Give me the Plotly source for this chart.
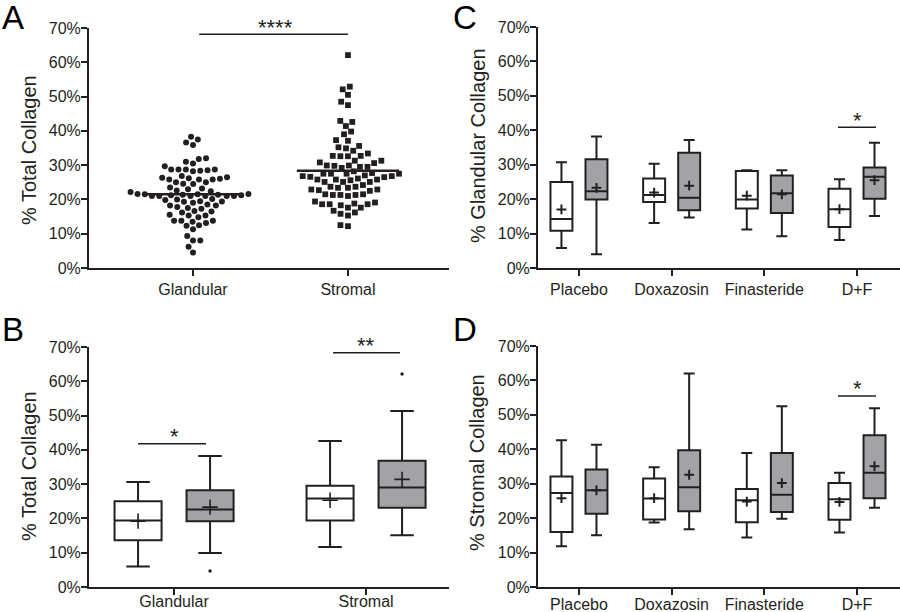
import numpy as np
import plotly.graph_objects as go

# ---------------- data ----------------
# Panel A: individual % total collagen values
glandular_pct = [38.3, 37.5, 36.6, 35.9,
                 32.0, 31.8, 31.0, 30.5, 29.7,
                 28.7, 28.7, 28.5, 28.7, 28.4, 28.7, 28.2,
                 26.3, 26.0, 25.8, 26.5, 26.8, 25.8, 25.8, 26.2,
                 25.0, 24.6, 24.5, 25.0,
                 23.2, 22.6, 22.4, 22.2, 23.0, 23.5,
                 21.0, 21.0, 21.0, 21.2, 21.4, 21.6, 21.4, 21.6, 21.5, 21.5, 21.2, 21.0, 21.0, 21.0,
                 20.0, 19.5, 19.3, 19.0, 19.4, 19.8, 20.1,
                 18.2, 17.5, 17.3, 17.8, 18.2, 18.5,
                 16.2, 15.5, 16.6, 15.3, 14.8, 15.3, 16.5,
                 13.8, 13.1, 12.5, 13.8, 13.5, 13.8,
                 12.3, 11.3,
                 9.3, 8.0, 8.0,
                 6.2,
                 4.5]
stromal_pct = [62.1,
               52.9, 52.1,
               50.5, 48.5, 47.5,
               42.9, 42.6, 41.4,
               39.0, 39.8,
               37.1, 37.3,
               35.2, 34.2, 33.4, 34.9, 35.6,
               32.7, 32.7, 32.6, 32.6,
               31.3, 30.6, 30.8, 31.3, 29.9, 29.5, 29.5, 29.2, 29.8, 29.9,
               28.2, 27.5, 27.5, 26.8, 26.6, 27.7, 26.8, 27.0, 27.5, 27.5,
               25.8, 25.6, 25.1, 25.1, 26.5, 25.1, 25.8, 25.8, 26.1,
               23.4, 22.9, 22.9, 23.7, 23.4, 24.2, 23.7, 22.7,
               21.5, 21.0, 21.3, 21.3, 21.5, 21.3, 22.5,
               18.6, 18.6, 19.1, 18.6, 19.4, 18.8,
               17.6, 17.6, 18.3, 16.7,
               15.8, 15.3, 16.2,
               12.2, 12.5]
a_categories = ["Glandular", "Stromal"]

# Panel B: box summaries (white = first group, grey = second group)
b_categories = ["Glandular", "Stromal"]
b_white_low = [6.0, 11.7]
b_white_q1 = [13.6, 19.4]
b_white_med = [19.4, 25.8]
b_white_q3 = [25.0, 29.5]
b_white_high = [30.6, 42.6]
b_white_mean = [19.2, 25.3]
b_grey_low = [9.9, 15.1]
b_grey_q1 = [19.2, 23.1]
b_grey_med = [22.6, 29.0]
b_grey_q3 = [28.2, 36.8]
b_grey_high = [38.2, 51.3]
b_grey_mean = [23.3, 31.4]
b_grey_outliers = [4.7, 62.1]

# Panels C and D: treatments
treatments = ["Placebo", "Doxazosin", "Finasteride", "D+F"]
c_white_low = [5.8, 13.1, 11.2, 8.1]
c_white_q1 = [10.8, 19.2, 17.3, 11.9]
c_white_med = [14.2, 21.2, 19.9, 17.1]
c_white_q3 = [25.0, 26.0, 28.2, 23.0]
c_white_high = [30.7, 30.3, 28.4, 25.8]
c_white_mean = [17.0, 21.9, 21.0, 17.1]
c_grey_low = [4.0, 14.7, 9.2, 15.1]
c_grey_q1 = [19.9, 16.8, 16.0, 20.1]
c_grey_med = [22.3, 20.4, 21.7, 26.5]
c_grey_q3 = [31.6, 33.5, 26.9, 29.2]
c_grey_high = [38.2, 37.2, 28.4, 36.4]
c_grey_mean = [23.3, 23.9, 21.4, 25.5]

d_white_low = [11.8, 18.7, 14.4, 15.8]
d_white_q1 = [16.0, 19.6, 18.8, 19.5]
d_white_med = [27.3, 25.7, 25.2, 25.5]
d_white_q3 = [32.1, 31.5, 28.5, 30.2]
d_white_high = [42.6, 34.8, 38.9, 33.2]
d_white_mean = [25.8, 25.8, 24.8, 24.7]
d_grey_low = [15.0, 16.8, 19.8, 23.0]
d_grey_q1 = [21.3, 22.0, 21.8, 25.8]
d_grey_med = [28.1, 29.0, 26.8, 33.2]
d_grey_q3 = [34.1, 39.7, 38.9, 44.1]
d_grey_high = [41.3, 62.0, 52.5, 51.9]
d_grey_mean = [28.1, 32.6, 30.2, 35.1]

y_ticks = [0, 10, 20, 30, 40, 50, 60, 70]
y_ticklabels = ["0%", "10%", "20%", "30%", "40%", "50%", "60%", "70%"]

# ---------------- style ----------------
INK = "#231f20"
GREY = "#a3a3a7"
FONT = "Arial, Liberation Sans, sans-serif"
W, H = 900, 612


def px_x(p):
    return p / W


def px_y(p):
    return 1 - p / H


def swarm(vals, center, unit_px, d_px, px_per_pct=240 / 70):
    """Beeswarm offsets: place each point at the smallest horizontal offset
    that avoids overlapping already-placed points (computed in pixels)."""
    vals = np.asarray(vals, dtype=float)
    order = np.argsort(vals, kind="stable")
    placed = []
    xs = np.zeros(len(vals))
    for i in order:
        y = vals[i] * px_per_pct
        near = [(px_, py_) for px_, py_ in placed if abs(py_ - y) < d_px]
        cands = [0.0]
        for px_, py_ in near:
            w = np.sqrt(d_px ** 2 - (py_ - y) ** 2)
            cands += [px_ - w, px_ + w]
        cands.sort(key=lambda c: (abs(c), c))
        x = cands[0]
        for c in cands:
            if all((c - px_) ** 2 + (y - py_) ** 2 >= d_px ** 2 - 1e-6 for px_, py_ in near):
                x = c
                break
        placed.append((x, y))
        xs[i] = center + x / unit_px
    return xs


fig = go.Figure()

# ---------------- Panel A ----------------
gx = swarm(glandular_pct, 0, 155, 7.3)
sx = swarm(stromal_pct, 1, 155, 7.6)
fig.add_trace(go.Scatter(x=gx, y=glandular_pct, mode="markers", xaxis="x", yaxis="y",
                         marker=dict(symbol="circle", size=6, color=INK), showlegend=False))
fig.add_trace(go.Scatter(x=sx, y=stromal_pct, mode="markers", xaxis="x", yaxis="y",
                         marker=dict(symbol="square", size=5.8, color=INK), showlegend=False))
for c, vals, hw in [(0, glandular_pct, 0.31), (1, stromal_pct, 0.33)]:
    m = float(np.mean(vals))
    fig.add_trace(go.Scatter(x=[c - hw, c + hw], y=[m, m], mode="lines", xaxis="x", yaxis="y",
                             line=dict(color=INK, width=2.5), showlegend=False))


def add_boxes(pos, low, q1, med, q3, high, mean, fill, xa, ya, width, lw, msize, mlw):
    fig.add_trace(go.Box(x=pos, q1=q1, median=med, q3=q3, lowerfence=low, upperfence=high,
                         xaxis=xa, yaxis=ya, width=width, fillcolor=fill,
                         line=dict(color=INK, width=lw), whiskerwidth=0.5,
                         boxpoints=False, showlegend=False, hoverinfo="skip"))
    fig.add_trace(go.Scatter(x=pos, y=mean, mode="markers", xaxis=xa, yaxis=ya,
                             marker=dict(symbol="cross-thin", size=msize, color=INK,
                                         line=dict(color=INK, width=mlw)),
                             showlegend=False))


# ---------------- Panel B ----------------
b_idx = np.arange(len(b_categories))
add_boxes(list(b_idx - 0.1875), b_white_low, b_white_q1, b_white_med, b_white_q3, b_white_high,
          b_white_mean, "white", "x2", "y2", 0.245, 2, 11, 1.6)
add_boxes(list(b_idx + 0.1875), b_grey_low, b_grey_q1, b_grey_med, b_grey_q3, b_grey_high,
          b_grey_mean, GREY, "x2", "y2", 0.245, 2, 11, 1.6)
fig.add_trace(go.Scatter(x=list(b_idx + 0.1875), y=b_grey_outliers, mode="markers", xaxis="x2", yaxis="y2",
                         marker=dict(size=3.5, color=INK), showlegend=False))

# ---------------- Panel C / D ----------------
t_idx = np.arange(len(treatments))
add_boxes(list(t_idx - 0.189), c_white_low, c_white_q1, c_white_med, c_white_q3, c_white_high,
          c_white_mean, "white", "x3", "y3", 0.237, 2, 7, 2)
add_boxes(list(t_idx + 0.189), c_grey_low, c_grey_q1, c_grey_med, c_grey_q3, c_grey_high,
          c_grey_mean, GREY, "x3", "y3", 0.237, 2, 7, 2)
add_boxes(list(t_idx - 0.189), d_white_low, d_white_q1, d_white_med, d_white_q3, d_white_high,
          d_white_mean, "white", "x4", "y4", 0.237, 2, 7, 2)
add_boxes(list(t_idx + 0.189), d_grey_low, d_grey_q1, d_grey_med, d_grey_q3, d_grey_high,
          d_grey_mean, GREY, "x4", "y4", 0.237, 2, 7, 2)

# ---------------- axes ----------------
tickfont = dict(family=FONT, size=16, color=INK)


def yax(domain, anchor):
    return dict(domain=domain, range=[0, 70], tickvals=y_ticks, ticktext=y_ticklabels,
                showline=True, linewidth=2, linecolor=INK, ticks="outside", ticklen=6,
                tickwidth=2, tickcolor=INK, showgrid=False, zeroline=False, tickfont=tickfont,
                anchor=anchor, automargin=False, ticklabelstandoff=-3, fixedrange=True)


def xax(domain, rng, labels, anchor, standoff=0):
    return dict(domain=domain, range=rng, tickvals=list(range(len(labels))), ticktext=labels,
                showline=True, linewidth=2, linecolor=INK, ticks="outside", ticklen=6,
                tickwidth=2, tickcolor=INK, showgrid=False, zeroline=False, tickfont=tickfont,
                anchor=anchor, automargin=False, ticklabelstandoff=standoff, fixedrange=True)


dom_left = [px_x(89), px_x(449)]
dom_right = [px_x(538), 1.0]
dom_top_l = [px_y(268), px_y(28)]
dom_bot_l = [px_y(587), px_y(347)]
dom_top_r = [px_y(268), px_y(27)]
dom_bot_r = [px_y(587), px_y(346)]

fig.update_layout(
    width=W, height=H, margin=dict(l=0, r=0, t=0, b=0, autoexpand=False),
    paper_bgcolor="white", plot_bgcolor="rgba(0,0,0,0)",
    boxmode="overlay", showlegend=False,
    font=dict(family=FONT, color=INK),
    xaxis=xax(dom_left, [-0.671, 1.652], a_categories, "y"),
    yaxis=yax(dom_top_l, "x"),
    xaxis2=xax(dom_left, [-0.443, 1.432], b_categories, "y2", -7),
    yaxis2=yax(dom_bot_l, "x2"),
    xaxis3=xax(dom_right, [-0.442, 3.464], treatments, "y3"),
    yaxis3=yax(dom_top_r, "x3"),
    xaxis4=xax(dom_right, [-0.442, 3.464], treatments, "y4", -4),
    yaxis4=yax(dom_bot_r, "x4"),
)

# ---------------- significance brackets ----------------
sig = [
    ("x", "y", 0.04, 1.0, 68.2, 0.535, "****"),
    ("x2", "y2", -0.1875, 0.167, 41.8, 0.0, "*"),
    ("x2", "y2", 0.828, 1.177, 68.3, 1.0, "**"),
    ("x3", "y3", 2.795, 3.205, 40.9, 3.0, "*"),
    ("x4", "y4", 2.795, 3.205, 55.5, 3.0, "*"),
]
for xa, ya, x0, x1, yv, xs_, txt in sig:
    fig.add_shape(type="line", xref=xa, yref=ya, x0=x0, x1=x1, y0=yv, y1=yv,
                  line=dict(color=INK, width=1.5))
    fig.add_annotation(xref=xa, yref=ya, x=xs_, y=yv, text=txt, showarrow=False,
                       xanchor="center", yanchor="middle", yshift=7,
                       font=dict(family=FONT, size=22, color=INK))

# ---------------- titles and panel letters ----------------
titles = [
    ("% Total Collagen", 29, 150),
    ("% Total Collagen", 29, 466),
    ("% Glandular Collagen", 478, 146),
    ("% Stromal Collagen", 477, 463),
]
for txt, xp, yp in titles:
    fig.add_annotation(xref="paper", yref="paper", x=px_x(xp), y=px_y(yp), text=txt,
                       textangle=-90, showarrow=False, xanchor="center", yanchor="middle",
                       font=dict(family=FONT, size=20, color=INK))

letters = [("A", 13, 17), ("B", 13, 329), ("C", 465, 17), ("D", 465, 329)]
for txt, xp, yp in letters:
    fig.add_annotation(xref="paper", yref="paper", x=px_x(xp), y=px_y(yp), text=txt,
                       showarrow=False, xanchor="center", yanchor="middle",
                       font=dict(family=FONT, size=33, color="black"))

# remove the browser's default 8px page margin so the figure sits at the window origin
fig.write_html("out.html", config={"displayModeBar": False},
               post_script="document.body.style.margin='0';document.body.style.overflow='hidden';")
